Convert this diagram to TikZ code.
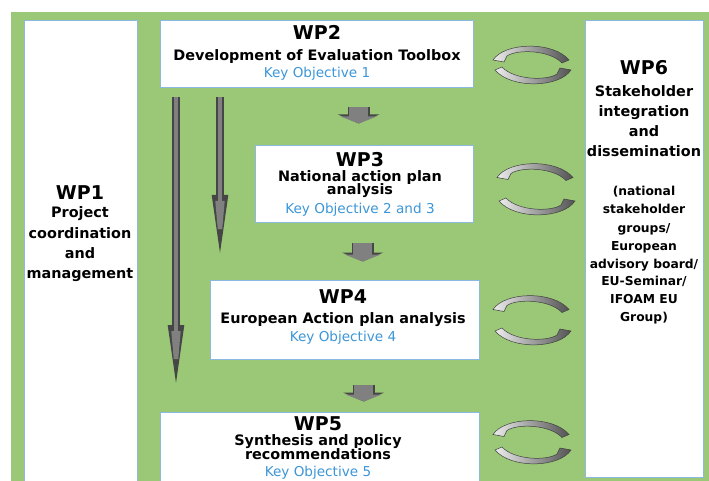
\documentclass[tikz,border=0pt]{standalone}
\usepackage{fontspec}
\setmainfont{DejaVu Sans}
\usetikzlibrary{arrows.meta,calc}
\definecolor{bggreen}{RGB}{155,200,118}
\definecolor{boxblue}{RGB}{140,185,225}
\definecolor{keyblue}{RGB}{60,150,215}
\definecolor{arrgray}{RGB}{128,128,128}
\definecolor{arrdark}{RGB}{70,70,70}
\begin{document}
\begin{tikzpicture}[x=1pt,y=-1pt,
  wpbox/.style={draw=boxblue, line width=1.3pt, fill=white, anchor=north west, inner sep=0pt},
  ttl/.style={font=\bfseries\fontsize{19}{22}\selectfont, anchor=base, inner sep=0pt},
  tb/.style={font=\bfseries\fontsize{14.4}{16}\selectfont, anchor=base, inner sep=0pt},
  ts/.style={font=\bfseries\fontsize{12.3}{14}\selectfont, anchor=base, inner sep=0pt},
  ko/.style={font=\fontsize{13.6}{15}\selectfont, text=keyblue, anchor=base, inner sep=0pt},
  longarrow/.style={preaction={draw=arrdark, line width=8pt, -{Triangle[length=70pt,width=14pt]}},
    draw=arrgray, line width=4.5pt, -{Triangle[length=64pt,width=8pt]}, shorten >=3pt, shorten <=1.5pt},
  blockarrow/.style={preaction={draw=arrdark, line width=22pt, -{Triangle[length=9pt,width=41pt]}},
    draw=arrgray, line width=19pt, -{Triangle[length=7pt,width=36pt]}, shorten >=1.5pt, shorten <=1.5pt},
  cyc/.pic={\shade[left color=gray!15, right color=gray!65!black, draw=black!75, line width=0.5pt]
    (-38,5) .. controls (-26,-13) and (22,-14) .. (38,5) -- (31,8)
    .. controls (19,-5) and (-14,-6) .. (-24,1) -- (-27,7) -- cycle;}
]
\useasboundingbox (0,0) rectangle (709,481);
\clip (0,0) rectangle (709,481);
\fill[bggreen] (11,12) rectangle (720,490);

% boxes
\node[wpbox, minimum width=113pt, minimum height=470pt] (wp1) at (24,20) {};
\node[wpbox, minimum width=313pt, minimum height=67pt] (wp2) at (160,20) {};
\node[wpbox, minimum width=218pt, minimum height=77pt] (wp3) at (255,145) {};
\node[wpbox, minimum width=269pt, minimum height=79pt] (wp4) at (210,280) {};
\node[wpbox, minimum width=319pt, minimum height=80pt] (wp5) at (160,412) {};
\node[wpbox, minimum width=118pt, minimum height=457pt] (wp6) at (585,20) {};

% WP1 text
\node[ttl] (wp1a) at (80,200) {WP1};
\node[tb] (wp1b) at (80,218) {Project};
\node[tb] (wp1c) at (80,238) {coordination};
\node[tb] (wp1d) at (80,258) {and};
\node[tb] (wp1e) at (80,278) {management};

% WP2 text
\node[ttl] (wp2a) at (317,40) {WP2};
\node[tb] (wp2b) at (317,61) {Development of Evaluation Toolbox};
\node[ko] (wp2c) at (317,78) {Key Objective 1};

% WP3 text
\node[ttl] (wp3a) at (360,167) {WP3};
\node[tb] (wp3b) at (360,182) {National action plan};
\node[tb] (wp3c) at (360,195) {analysis};
\node[ko] (wp3d) at (360,214) {Key Objective 2 and 3};

% WP4 text
\node[ttl] (wp4a) at (343,303) {WP4};
\node[tb] (wp4b) at (343,323) {European Action plan analysis};
\node[ko] (wp4c) at (343,341) {Key Objective 4};

% WP5 text
\node[ttl] (wp5a) at (318,430) {WP5};
\node[tb] (wp5b) at (318,445.5) {Synthesis and policy};
\node[tb] (wp5c) at (318,459) {recommendations};
\node[ko] (wp5d) at (318,476.5) {Key Objective 5};

% WP6 text
\node[ttl] (wp6a) at (644,75) {WP6};
\node[tb] (wp6b) at (644,97) {Stakeholder};
\node[tb] (wp6c) at (644,117) {integration};
\node[tb] (wp6d) at (644,137) {and};
\node[tb] (wp6e) at (644,157) {dissemination};
\node[ts] (wp6f) at (644,196) {(national};
\node[ts] (wp6g) at (644,214) {stakeholder};
\node[ts] (wp6h) at (644,232) {groups/};
\node[ts] (wp6i) at (644,250) {European};
\node[ts] (wp6j) at (644,268) {advisory board/};
\node[ts] (wp6k) at (644,285.5) {EU-Seminar/};
\node[ts] (wp6l) at (644,303) {IFOAM EU};
\node[ts] (wp6m) at (644,321) {Group)};

% long arrows
\draw[longarrow] ($(wp2.south west)+(16,7)$) -- ($(wp5.north west)+(16,-14)$);
\draw[longarrow] ($(wp2.south west)+(60,7)$) -- ($(wp4.north west)+(10,-12)$);

% block arrows
\draw[blockarrow] ($(wp2.south)+(41.5,17)$) -- ($(wp3.north)+(-6,-20)$);
\draw[blockarrow] ($(wp3.south)+(-2,18)$) -- ($(wp4.north)+(17.5,-17)$);
\draw[blockarrow] ($(wp4.south)+(18.5,23)$) -- ($(wp5.north)+(43.5,-9)$);

% exchange arrows
\pic at (531,55) {cyc};
\pic[rotate=180] at (533,75) {cyc};
\pic at (535,172.5) {cyc};
\pic[rotate=180] at (537,206) {cyc};
\pic at (531,304.5) {cyc};
\pic[rotate=180] at (533,336) {cyc};
\pic at (531,429.5) {cyc};
\pic[rotate=180] at (533,455) {cyc};
\end{tikzpicture}
\end{document}
